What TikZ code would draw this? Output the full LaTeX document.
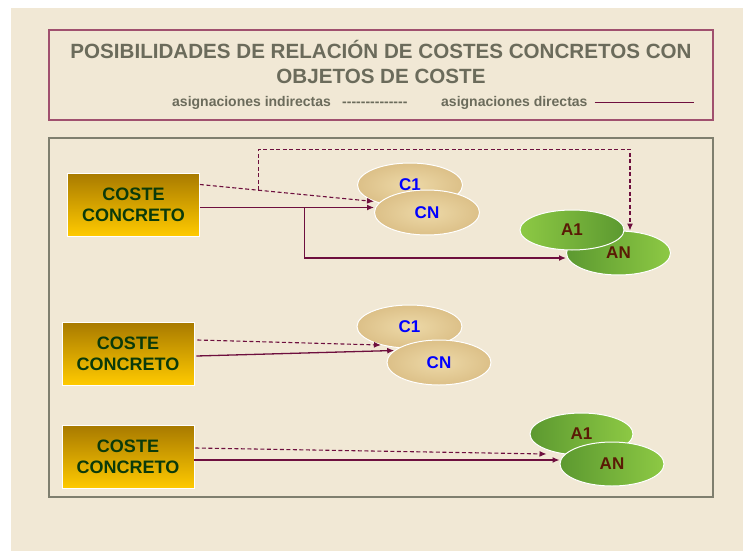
\documentclass[tikz,border=0pt]{standalone}
\usepackage{fontspec}
\setmainfont{Liberation Sans}[Ligatures=TeXOff]
\usetikzlibrary{shapes.geometric,arrows.meta}
\definecolor{fondo}{HTML}{F1E8D5}
\definecolor{gristexto}{HTML}{6B6B5B}
\definecolor{marcotitulo}{HTML}{A0506E}
\definecolor{marcogris}{HTML}{7F7F6F}
\definecolor{granate}{HTML}{6E0F3E}
\definecolor{orotop}{HTML}{A87A00}
\definecolor{orobot}{HTML}{FFCA00}
\definecolor{verdetexto}{HTML}{0A3A0A}
\definecolor{papiro}{HTML}{DCC088}
\definecolor{papiroclaro}{HTML}{EDD9A8}
\definecolor{verdeclaro}{HTML}{8DC944}
\definecolor{verdeoscuro}{HTML}{5C9930}
\definecolor{marron}{HTML}{5A1A05}

\begin{document}
\begin{tikzpicture}[x=1pt,y=-1pt,
    coste/.style={draw=white, line width=0.8pt, top color=orotop, bottom color=orobot,
        minimum width=132pt, minimum height=63pt, inner sep=0pt, align=center,
        text=verdetexto, font=\bfseries\fontsize{18}{21}\selectfont},
    papel/.style={ellipse, draw=white, line width=1pt, inner color=papiroclaro, outer color=papiro,
        minimum width=105pt, minimum height=44pt, inner sep=0pt, text=blue,
        font=\bfseries\fontsize{17}{17}\selectfont},
    hoja/.style={ellipse, draw=white, line width=1pt, minimum width=104pt, minimum height=44pt,
        inner sep=0pt, text=marron, font=\bfseries\fontsize{17}{17}\selectfont},
    leyenda/.style={inner sep=0pt, text=gristexto, font=\bfseries\fontsize{14}{16}\selectfont},
    cabecera/.style={inner sep=0pt, text=gristexto, font=\bfseries\fontsize{20.6}{24}\selectfont},
    directa/.style={draw=granate, line width=1.3pt, -{Latex[length=7pt,width=6pt]}},
    indirecta/.style={directa, line width=1.1pt, dash pattern=on 4pt off 2.5pt}]

    % Background
    \useasboundingbox (0,0) rectangle (743,551);
    \fill[fondo] (11,8) rectangle (743,551);

    % Title
    \node[draw=marcotitulo, line width=1.2pt, minimum width=664pt, minimum height=90pt] (titulo) at (381,75) {};
    \node[cabecera, anchor=base] (linea1) at (381,59) {POSIBILIDADES DE RELACIÓN DE COSTES CONCRETOS CON};
    \node[cabecera, anchor=base] (linea2) at (381,83) {OBJETOS DE COSTE};

    % Legend
    \node[leyenda, anchor=base west] (indir) at (172,106) {asignaciones indirectas};
    \node[leyenda, anchor=base west] (guiones) at (342,106) {--------------};
    \node[leyenda, anchor=base west] (dir) at (441,106) {asignaciones directas};
    \draw[granate, line width=0.8pt] ([xshift=7pt]dir.east) -- ++(99,0);

    % Frame
    \node[draw=marcogris, line width=2pt, minimum width=664pt, minimum height=359pt] (marco) at (381,317.5) {};

    % First case: C1..CN and A1..AN
    \node[coste] (coste1) at (133.5,204.5) {COSTE\\CONCRETO};
    \node[papel] (c1a) at (410,185) {C1};
    \node[papel, minimum height=45pt] (cn1) at (427,212.5) {CN};
    \node[hoja, left color=verdeoscuro, right color=verdeclaro] (an1) at (618.5,253) {AN};
    \node[hoja, minimum height=40pt, left color=verdeclaro, right color=verdeoscuro] (a1a) at (572,230) {A1};

    \coordinate (e1) at ([yshift=5pt]cn1.west);
    \draw[directa] (e1 -| coste1.east) -- (e1);
    \path (e1 -| coste1.east) -- (e1) coordinate[pos=0.6] (r1);
    \draw[directa] (r1) |- ([yshift=-5pt]an1.west);

    \path ([yshift=20pt]coste1.east) -- ([yshift=11pt]cn1.west) coordinate[pos=0.337] (d1);
    \draw[indirecta] ([yshift=20pt]coste1.east) -- ([yshift=11pt]cn1.west);
    \draw[indirecta] (d1) -- ++(0,-41) -| ([xshift=11.5pt]an1.north);

    % Second case: C1..CN
    \node[coste] (coste2) at (128,353.5) {COSTE\\CONCRETO};
    \node[papel, minimum height=43pt] (c1b) at (409.5,326.5) {C1};
    \node[papel, minimum height=45pt, minimum width=104pt] (cn2) at (439,362.5) {CN};

    \draw[indirecta] ([shift={(3pt,13.5pt)}]coste2.east) -- (c1b.213);
    \draw[directa] ([shift={(2pt,-2.5pt)}]coste2.east) -- (cn2.165);

    % Third case: A1..AN
    \node[coste] (coste3) at (128,457) {COSTE\\CONCRETO};
    \node[hoja, minimum width=103pt, minimum height=42pt, left color=verdeoscuro, right color=verdeclaro] (a1c) at (581.5,434) {A1};
    \node[hoja, left color=verdeoscuro, right color=verdeclaro] (an3) at (612,464) {AN};

    \draw[indirecta] ([shift={(1pt,9pt)}]coste3.east) -- ([shift={(-13pt,10pt)}]an3.west);
    \coordinate (e3) at ([yshift=4pt]an3.west);
    \draw[directa] (e3 -| coste3.east) -- (e3);
\end{tikzpicture}
\end{document}
